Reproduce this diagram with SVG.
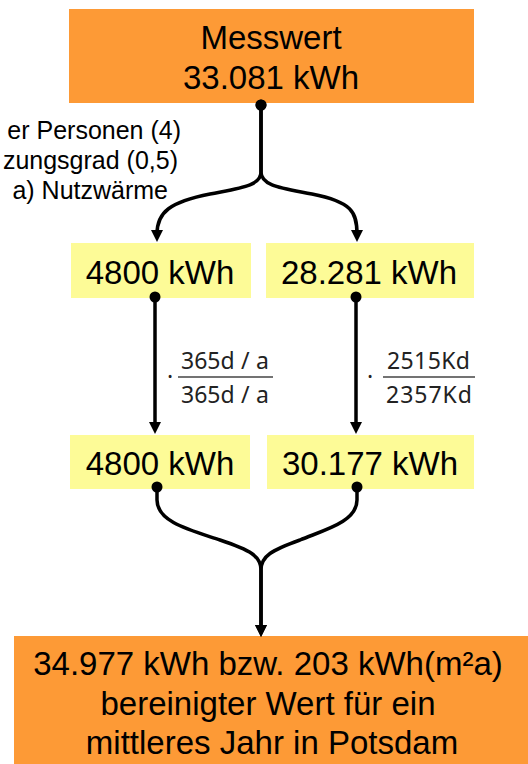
<svg xmlns="http://www.w3.org/2000/svg" width="528" height="764" viewBox="0 0 528 764">
<style>
.orange{fill:#fd9a36}
.yellow{fill:#fdfb97}
.lbl{font-family:"Liberation Sans",Arial,sans-serif;font-size:33px;fill:#000;text-anchor:middle}
.side{font-family:"Liberation Sans",Arial,sans-serif;font-size:25px;fill:#000;text-anchor:end}
.frac{font-family:"Noto Sans","DejaVu Sans",sans-serif;font-size:23px;fill:#222}
.conn{fill:none;stroke:#000;stroke-width:3.5}
.fline{stroke:#444;stroke-width:1.3}
</style>
<defs>
<marker id="arrow" markerUnits="userSpaceOnUse" markerWidth="12" markerHeight="12" viewBox="0 0 12 12" refX="4" refY="6" orient="auto"><path d="M0,0 L12,6 L0,12 z" fill="#000"/></marker>
<marker id="dot" markerUnits="userSpaceOnUse" markerWidth="12" markerHeight="12" viewBox="0 0 12 12" refX="6" refY="6"><circle cx="6" cy="6" r="5.5" fill="#000"/></marker>
</defs>
<g id="messwert">
<rect class="orange" x="69" y="9" width="405" height="94"/>
<text class="lbl" x="271" y="49">Messwert</text>
<text class="lbl" x="271" y="89">33.081 kWh</text>
</g>
<g id="side-note">
<text class="side" x="181" y="139">er Personen (4)</text>
<text class="side" x="178" y="169">zungsgrad (0,5)</text>
<text class="side" x="168" y="199">a) Nutzwärme</text>
</g>
<g id="n1-left">
<rect class="yellow" x="71" y="243" width="180" height="55"/>
<text class="lbl" x="160" y="284">4800 kWh</text>
</g>
<g id="n1-right">
<rect class="yellow" x="266" y="243" width="208" height="55"/>
<text class="lbl" x="369" y="284">28.281 kWh</text>
</g>
<g id="frac-left">
<text class="frac" x="170" y="385" text-anchor="middle">·</text>
<text class="frac" y="369"><tspan x="181">365d</tspan><tspan x="241">/</tspan><tspan x="256">a</tspan></text>
<line class="fline" x1="178" y1="377" x2="273" y2="377"/>
<text class="frac" y="403"><tspan x="181">365d</tspan><tspan x="241">/</tspan><tspan x="256">a</tspan></text>
</g>
<g id="frac-right">
<text class="frac" x="370" y="385" text-anchor="middle">·</text>
<text class="frac" x="387" y="369" textLength="83" lengthAdjust="spacing">2515Kd</text>
<line class="fline" x1="383" y1="377" x2="475" y2="377"/>
<text class="frac" x="386" y="403" textLength="86" lengthAdjust="spacing">2357Kd</text>
</g>
<g id="n2-left">
<rect class="yellow" x="70" y="435" width="180" height="54"/>
<text class="lbl" x="160" y="475">4800 kWh</text>
</g>
<g id="n2-right">
<rect class="yellow" x="267" y="435" width="207" height="54"/>
<text class="lbl" x="370" y="475">30.177 kWh</text>
</g>
<g id="result">
<rect class="orange" x="14" y="636" width="514" height="128"/>
<text class="lbl" x="268" y="675">34.977 kWh bzw. 203 kWh(m²a)</text>
<text class="lbl" x="268" y="715">bereinigter Wert für ein</text>
<text class="lbl" x="272" y="754">mittleres Jahr in Potsdam</text>
</g>
<g id="connectors">
<path class="conn" marker-start="url(#dot)" marker-end="url(#arrow)" d="M261,105 L261,172 C261,186 240,188 210,194 C170,202 157,212 157,234"/>
<path class="conn" marker-start="url(#dot)" marker-end="url(#arrow)" d="M261,105 L261,172 C261,186 282,188 312,194 C352,202 357,212 357,234"/>
<path class="conn" marker-start="url(#dot)" marker-end="url(#arrow)" d="M155,297 L155,426"/>
<path class="conn" marker-start="url(#dot)" marker-end="url(#arrow)" d="M356,297 L356,426"/>
<path class="conn" marker-start="url(#dot)" marker-end="url(#arrow)" d="M157,487 L157,500 C157,522 190,530 220,540 C250,550 261,556 261,570 L261,629"/>
<path class="conn" marker-start="url(#dot)" marker-end="url(#arrow)" d="M357,487 L357,500 C357,522 324,530 300,540 C272,550 261,556 261,570 L261,629"/>
</g>
</svg>
